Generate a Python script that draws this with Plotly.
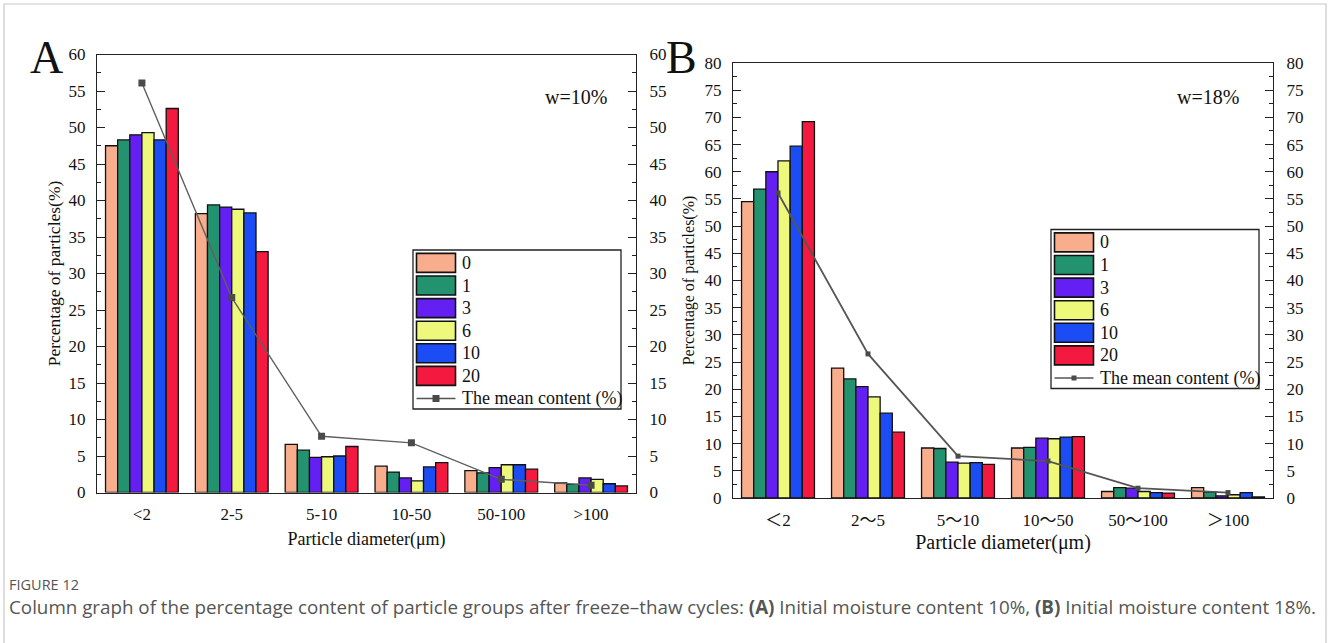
import plotly.graph_objects as go

# ---------------- data ----------------
cycles = ["0", "1", "3", "6", "10", "20"]
colors = ["#F8AE8C", "#22936E", "#6420F2", "#EEF97C", "#1C4CF4", "#F4193F"]

cats_a = ["<2", "2-5", "5-10", "10-50", "50-100", ">100"]
vals_a = {
    "0":  [47.5, 38.2, 6.6, 3.6, 3.0, 1.3],
    "1":  [48.3, 39.4, 5.8, 2.8, 2.7, 1.1],
    "3":  [49.0, 39.1, 4.8, 2.0, 3.4, 2.0],
    "6":  [49.3, 38.8, 4.9, 1.6, 3.8, 1.8],
    "10": [48.3, 38.3, 5.0, 3.5, 3.8, 1.2],
    "20": [52.6, 33.0, 6.3, 4.1, 3.2, 0.9],
}
mean_a = [56.1, 26.7, 7.7, 6.8, 1.8, 1.0]

cats_b = ["＜2", "2～5", "5～10", "10～50", "50～100", "＞100"]
vals_b = {
    "0":  [54.5, 23.9, 9.2, 9.2, 1.2, 1.9],
    "1":  [56.8, 21.9, 9.1, 9.3, 1.9, 1.1],
    "3":  [60.0, 20.5, 6.6, 11.0, 1.8, 0.4],
    "6":  [62.0, 18.6, 6.4, 10.9, 1.2, 0.6],
    "10": [64.7, 15.6, 6.5, 11.2, 1.0, 1.0],
    "20": [69.2, 12.1, 6.2, 11.3, 0.9, 0.2],
}
mean_b = [56.1, 26.5, 7.7, 6.8, 1.8, 1.0]

mean_name = "The mean content (%)"
ytitle = "Percentage of particles(%)"
xtitle = "Particle diameter(\u03bcm)"

SERIF = "Liberation Serif, Times New Roman, Noto Sans CJK SC, serif"
W, H = 1328, 643

def px_x(p):
    return p / W

def px_y(p):
    return 1 - p / H

fig = go.Figure()

# panel A
for c, col in zip(cycles, colors):
    fig.add_trace(go.Bar(x=cats_a, y=vals_a[c], name=c,
                         marker=dict(color=col, line=dict(color="#111", width=1.3)),
                         xaxis="x", yaxis="y", showlegend=False))
fig.add_trace(go.Scatter(x=cats_a, y=mean_a, name=mean_name, mode="lines+markers",
                         line=dict(color="#5f5f5f", width=1.4),
                         marker=dict(symbol="square", size=7, color="#4a4a4a"),
                         xaxis="x", yaxis="y2", showlegend=False))
# panel B
for c, col in zip(cycles, colors):
    fig.add_trace(go.Bar(x=cats_b, y=vals_b[c], name=c,
                         marker=dict(color=col, line=dict(color="#111", width=1.3)),
                         xaxis="x2", yaxis="y3", showlegend=False))
fig.add_trace(go.Scatter(x=cats_b, y=mean_b, name=mean_name, mode="lines+markers",
                         line=dict(color="#555555", width=1.8),
                         marker=dict(symbol="square", size=5, color="#4a4a4a"),
                         xaxis="x2", yaxis="y4", showlegend=False))

dom_ax = [px_x(97), px_x(636)]
dom_ay = [px_y(492.5), px_y(54.5)]
dom_bx = [px_x(733), px_x(1273)]
dom_by = [px_y(498), px_y(63)]

tickfont = dict(family=SERIF, size=17, color="#111")

def yax(rng, side, overlay=None, title=None, anchor=None, domain=None, standoff=8, tsize=17):
    d = dict(range=rng, dtick=5, ticks="inside", ticklen=8, tickwidth=1.2, tickcolor="#222",
             minor=dict(ticks="inside", ticklen=4, dtick=2.5, tickwidth=1.2, tickcolor="#222"),
             showline=True, linecolor="#222", linewidth=1.3, showgrid=False, zeroline=False,
             tickfont=tickfont, side=side, ticklabelstandoff=(9 if side == "right" else 7),
             anchor=anchor, automargin=False, fixedrange=True)
    if domain is not None:
        d["domain"] = domain
    if overlay:
        d["overlaying"] = overlay
    if title:
        d["title"] = dict(text=title, font=dict(family=SERIF, size=tsize, color="#111"), standoff=standoff)
    return d

def xax(domain, anchor, standoff, tsize):
    return dict(domain=domain, anchor=anchor, type="category", range=[-0.5, 5.5],
                showline=True, mirror=True, linecolor="#222", linewidth=1.3, ticks="",
                showgrid=False, tickfont=tickfont, ticklabelstandoff=6, automargin=False,
                fixedrange=True,
                title=dict(text=xtitle, font=dict(family=SERIF, size=tsize, color="#111"), standoff=standoff))

fig.update_layout(
    width=W, height=H, margin=dict(l=0, r=0, t=0, b=0, autoexpand=False),
    paper_bgcolor="white", plot_bgcolor="white",
    barmode="group", bargap=0.19, bargroupgap=0,
    xaxis=xax(dom_ax, "y", 9, 18),
    yaxis=yax([0, 60], "left", title=ytitle, anchor="x", domain=dom_ay, standoff=3, tsize=17.5),
    yaxis2=yax([0, 60], "right", overlay="y", anchor="x"),
    xaxis2=xax(dom_bx, "y3", 6, 20),
    yaxis3=yax([0, 80], "left", title=ytitle, anchor="x2", domain=dom_by, standoff=5, tsize=16),
    yaxis4=yax([0, 80], "right", overlay="y3", anchor="x2"),
    showlegend=False,
    font=dict(family=SERIF),
)

# ---------- legends (drawn as layout shapes + text) ----------
LEG_W, LEG_H, PITCH = 208, 159, 22.6

def draw_legend(left, top, mean_marker):
    fig.add_shape(type="rect", xref="paper", yref="paper",
                  x0=px_x(left), x1=px_x(left + LEG_W), y0=px_y(top + LEG_H), y1=px_y(top),
                  line=dict(color="#222", width=1.3), fillcolor="white")
    for i, (c, col) in enumerate(zip(cycles, colors)):
        t = top + 3.4 + i * PITCH
        fig.add_shape(type="rect", xref="paper", yref="paper",
                      x0=px_x(left + 3.5), x1=px_x(left + 42.5), y0=px_y(t + 19), y1=px_y(t),
                      line=dict(color="#111", width=1.6), fillcolor=col)
        fig.add_annotation(xref="paper", yref="paper", x=px_x(left + 47), y=px_y(t + 9.5),
                           xanchor="left", yanchor="middle", showarrow=False, text=c,
                           font=dict(family=SERIF, size=18, color="#111"))
    ym = top + 3.4 + 6 * PITCH + 9.5
    fig.add_shape(type="line", xref="paper", yref="paper",
                  x0=px_x(left + 3.5), x1=px_x(left + 42.5), y0=px_y(ym), y1=px_y(ym),
                  line=dict(color="#555", width=1.5))
    s = mean_marker / 2
    fig.add_shape(type="rect", xref="paper", yref="paper",
                  x0=px_x(left + 23 - s), x1=px_x(left + 23 + s), y0=px_y(ym + s), y1=px_y(ym - s),
                  line=dict(color="#4a4a4a", width=0), fillcolor="#4a4a4a")
    fig.add_annotation(xref="paper", yref="paper", x=px_x(left + 47), y=px_y(ym),
                       xanchor="left", yanchor="middle", showarrow=False, text=mean_name,
                       font=dict(family=SERIF, size=18, color="#111"))

draw_legend(413, 250, 7)
draw_legend(1051, 229.5, 5)

annos = [
    dict(text="A", x=px_x(46), y=px_y(58), font=dict(family=SERIF, size=46, color="#111")),
    dict(text="B", x=px_x(682), y=px_y(58), font=dict(family=SERIF, size=46, color="#111")),
    dict(text="w=10%", x=px_x(576), y=px_y(97), font=dict(family=SERIF, size=20, color="#111")),
    dict(text="w=18%", x=px_x(1208), y=px_y(97), font=dict(family=SERIF, size=20, color="#111")),
]
for a in annos:
    fig.add_annotation(xref="paper", yref="paper", showarrow=False, xanchor="center", yanchor="middle", **a)

CAP = "Open Sans, Lato, Noto Sans, sans-serif"
fig.add_annotation(xref="paper", yref="paper", x=px_x(7), y=px_y(584), xanchor="left", yanchor="middle",
                   showarrow=False, text="FIGURE 12", font=dict(family=CAP, size=14.5, color="#555"))
fig.add_annotation(xref="paper", yref="paper", x=px_x(7), y=px_y(607), xanchor="left", yanchor="middle",
                   showarrow=False,
                   text="Column graph of the percentage content of particle groups after freeze\u2013thaw cycles: "
                        "<b>(A)</b> Initial moisture content 10%, <b>(B)</b> Initial moisture content 18%.",
                   font=dict(family=CAP, size=18.8, color="#555"))

fig.add_shape(type="rect", xref="paper", yref="paper", x0=px_x(4), x1=px_x(1326), y0=-0.2, y1=px_y(4),
              line=dict(color="#c8c8c8", width=1.2), fillcolor="rgba(0,0,0,0)", layer="below")

fig.write_html("out.html", config=dict(displayModeBar=False),
               post_script="document.body.style.margin='0';document.body.style.overflow='hidden';")
